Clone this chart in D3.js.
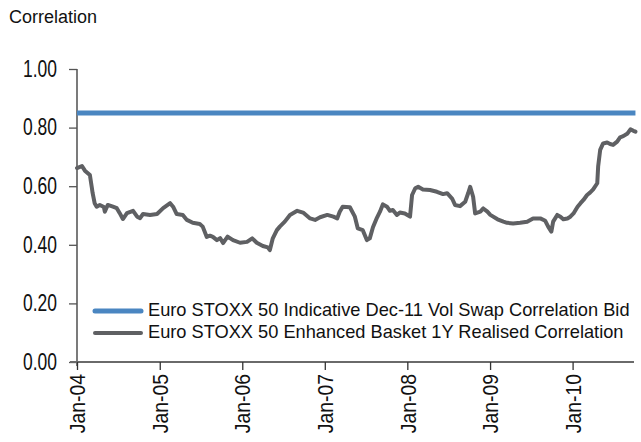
<!DOCTYPE html>
<html>
<head>
<meta charset="utf-8">
<script src="https://cdn.jsdelivr.net/npm/d3@7"></script>
<style>
  html, body { margin: 0; padding: 0; background: #fff; }
  svg { display: block; font-family: "Liberation Sans", Arial, sans-serif; }
</style>
</head>
<body>
<svg id="chart" width="641" height="442"></svg>
<script>
// ---- Data ----
const seriesNames = [
  "Euro STOXX 50 Indicative Dec-11 Vol Swap Correlation Bid",
  "Euro STOXX 50 Enhanced Basket 1Y Realised Correlation"
];
const yTickValues = [0, 0.2, 0.4, 0.6, 0.8, 1.0];
const xTickLabels = ["Jan-04","Jan-05","Jan-06","Jan-07","Jan-08","Jan-09","Jan-10"];

const bidDates = ["2004-01-01", "2010-10-06"];
const bidValues = [0.85, 0.85];

const realisedDates = [
  "2004-01-01","2004-01-23","2004-02-05","2004-02-27","2004-03-06","2004-03-10","2004-03-19","2004-03-28",
  "2004-04-11","2004-04-29","2004-05-03","2004-05-16","2004-06-08","2004-06-25","2004-07-08","2004-07-22",
  "2004-08-09","2004-09-05","2004-09-23","2004-10-06","2004-10-19","2004-11-19","2004-12-20","2005-01-16",
  "2005-02-16","2005-03-01","2005-03-17","2005-04-13","2005-05-01","2005-05-27","2005-06-27","2005-07-10",
  "2005-07-28","2005-08-11","2005-08-24","2005-09-11","2005-09-25","2005-10-08","2005-10-28","2005-11-21",
  "2005-12-22","2006-01-22","2006-02-14","2006-03-06","2006-04-02","2006-04-24","2006-05-03","2006-05-16",
  "2006-06-03","2006-06-16","2006-07-08","2006-07-31","2006-09-01","2006-09-27","2006-10-28","2006-11-19",
  "2006-12-11","2007-01-12","2007-02-08","2007-02-25","2007-03-08","2007-03-21","2007-04-22","2007-05-14",
  "2007-05-27","2007-06-18","2007-07-06","2007-07-19","2007-08-02","2007-08-20","2007-09-02","2007-09-15",
  "2007-10-03","2007-10-16","2007-10-29","2007-11-16","2007-11-29","2007-12-21","2008-01-13","2008-01-22",
  "2008-02-05","2008-02-18","2008-03-10","2008-04-10","2008-05-11","2008-06-07","2008-06-25","2008-07-17",
  "2008-07-30","2008-08-21","2008-09-13","2008-09-26","2008-10-05","2008-10-18","2008-10-27","2008-11-19",
  "2008-12-02","2008-12-20","2009-01-02","2009-02-03","2009-03-01","2009-03-17","2009-04-13","2009-05-14",
  "2009-06-14","2009-07-10","2009-08-11","2009-09-02","2009-09-15","2009-09-29","2009-10-07","2009-10-25",
  "2009-11-08","2009-11-21","2009-12-09","2009-12-22","2010-01-05","2010-01-23","2010-02-05","2010-02-18",
  "2010-03-06","2010-03-19","2010-04-02","2010-04-20","2010-04-24","2010-05-03","2010-05-16","2010-06-03",
  "2010-06-16","2010-06-29","2010-07-17","2010-07-30","2010-08-13","2010-09-01","2010-09-14","2010-09-27",
  "2010-10-06"
];
const realisedValues = [
  0.662,0.669,0.653,0.638,0.598,0.577,0.542,0.530,
  0.536,0.529,0.513,0.536,0.530,0.525,0.508,0.488,
  0.508,0.516,0.496,0.491,0.505,0.502,0.505,0.525,
  0.542,0.530,0.505,0.502,0.485,0.475,0.471,0.462,
  0.427,0.431,0.427,0.416,0.423,0.406,0.428,0.416,
  0.407,0.410,0.422,0.407,0.396,0.391,0.382,0.422,
  0.450,0.462,0.479,0.502,0.516,0.510,0.490,0.485,
  0.494,0.502,0.496,0.490,0.513,0.530,0.528,0.496,
  0.456,0.450,0.416,0.422,0.460,0.493,0.513,0.538,
  0.530,0.516,0.519,0.502,0.510,0.507,0.496,0.570,
  0.593,0.598,0.589,0.587,0.581,0.573,0.576,0.558,
  0.536,0.532,0.547,0.576,0.598,0.564,0.507,0.513,
  0.524,0.513,0.502,0.487,0.479,0.475,0.473,0.475,
  0.479,0.490,0.490,0.482,0.462,0.445,0.479,0.502,
  0.496,0.487,0.490,0.496,0.507,0.530,0.542,0.553,
  0.570,0.578,0.589,0.610,0.667,0.724,0.746,0.749,
  0.744,0.741,0.752,0.767,0.771,0.780,0.794,0.789,
  0.786
];

// ---- Chart ----
const parse = d3.utcParse("%Y-%m-%d");
const svg = d3.select("#chart");

const x = d3.scaleUtc()
  .domain([parse("2004-01-01"), parse("2010-10-04")])
  .range([77, 635]);
const y = d3.scaleLinear().domain([0, 1]).range([362, 69]);

const colors = ["#4a86c1", "#5f6063"];
const widths = [5, 4];

// Title
svg.append("text")
  .attr("x", 9).attr("y", 23)
  .attr("font-size", 18)
  .attr("fill", "#111")
  .text("Correlation");

// Y axis
const ySx = 0.76;
const yAxis = d3.axisLeft(y)
  .tickValues(yTickValues)
  .tickSize(8)
  .tickPadding(12)
  .tickFormat(d3.format(".2f"));
const gy = svg.append("g").attr("transform", "translate(77,0)").call(yAxis);
gy.select(".domain").attr("stroke", "#333").attr("stroke-width", 1.3)
  .attr("d", "M0,69V366");
gy.selectAll(".tick line").attr("stroke", "#555").attr("stroke-width", 1.3);
gy.selectAll(".tick text")
  .attr("font-size", 23)
  .attr("fill", "#111")
  .attr("x", -20 / ySx)
  .attr("font-family", "Liberation Sans, Arial, sans-serif")
  .attr("transform", `scale(${ySx},1)`);

// X axis
const xTickDates = xTickLabels.map((s, i) => parse(`${2004 + i}-01-01`));
const xSx = 0.88;
const xAxis = d3.axisBottom(x)
  .tickValues(xTickDates)
  .tickSize(8)
  .tickFormat((d, i) => xTickLabels[i]);
const gx = svg.append("g").attr("transform", "translate(0,362)").call(xAxis);
gx.select(".domain").attr("stroke", "#6a6a6a").attr("stroke-width", 2)
  .attr("d", "M70,0H634");
gx.selectAll(".tick line").attr("stroke", "#333").attr("stroke-width", 1.3);
gx.selectAll(".tick text")
  .attr("font-size", 22)
  .attr("fill", "#111")
  .attr("font-family", "Liberation Sans, Arial, sans-serif")
  .attr("text-anchor", "end")
  .attr("x", -12 / xSx)
  .attr("y", 0)
  .attr("dy", "0.35em")
  .attr("transform", `rotate(-90) scale(${xSx},1)`);

// Lines
const line = d3.line()
  .x(d => x(d.date))
  .y(d => y(d.value));

const bidData = bidDates.map((d, i) => ({ date: parse(d), value: bidValues[i] }));
const realisedData = realisedDates.map((d, i) => ({ date: parse(d), value: realisedValues[i] }));

svg.append("path")
  .datum(bidData)
  .attr("fill", "none")
  .attr("stroke", colors[0])
  .attr("stroke-width", widths[0])
  .attr("d", line);

svg.append("path")
  .datum(realisedData)
  .attr("fill", "none")
  .attr("stroke", colors[1])
  .attr("stroke-width", widths[1])
  .attr("stroke-linejoin", "round")
  .attr("stroke-linecap", "round")
  .attr("d", line);

// Legend
const legendY = [311, 333];
const legendBase = [316, 338];
const lFont = 19;
const lSx = 0.96;
seriesNames.forEach((name, i) => {
  svg.append("line")
    .attr("x1", 95).attr("x2", 141)
    .attr("y1", legendY[i]).attr("y2", legendY[i])
    .attr("stroke", colors[i])
    .attr("stroke-width", widths[i])
    .attr("stroke-linecap", "round");
  svg.append("text")
    .attr("transform", `translate(148,${legendBase[i]}) scale(${lSx},1)`)
    .attr("font-size", lFont)
    .attr("fill", "#111")
    .text(name);
});
</script>
</body>
</html>
